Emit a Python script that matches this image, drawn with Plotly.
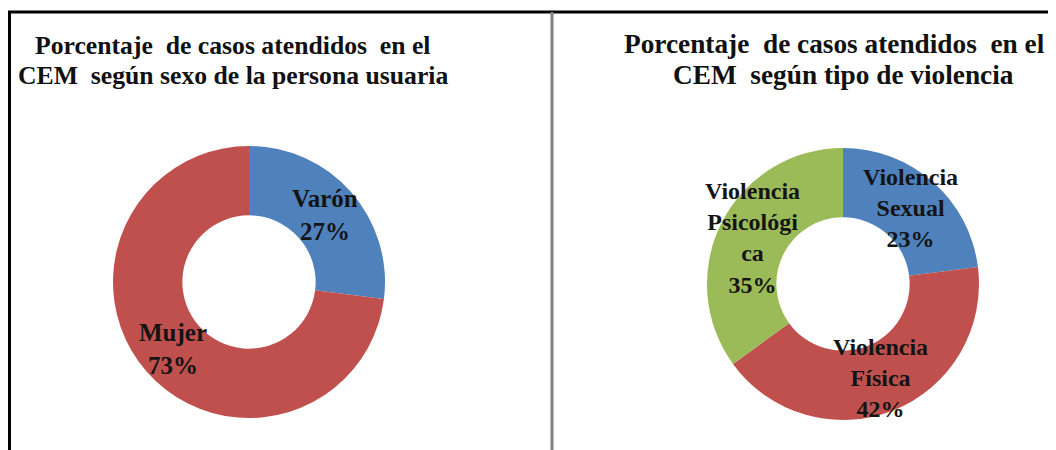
import math
import plotly.graph_objects as go

# Data
sexo_labels = ["Varón", "Mujer"]
sexo_values = [27, 73]
sexo_text = ["Varón", "Mujer"]

tipo_labels = ["Violencia Sexual", "Violencia Física", "Violencia Psicológica"]
tipo_values = [23, 42, 35]
tipo_text = ["Violencia<br>Sexual", "Violencia<br>Física", "Violencia<br>Psicológi<br>ca"]

title_left = ["Porcentaje  de casos atendidos  en el", "CEM  según sexo de la persona usuaria"]
title_right = ["Porcentaje  de casos atendidos  en el", "CEM  según tipo de violencia"]

# Page body has an 8px margin; figure is placed at (8, 8)
OFF = 8
W, H = 1056 - OFF, 450 - OFF
BLUE, RED, GREEN = "#4F81BD", "#C0504D", "#9BBB59"
FONT = "Liberation Serif"


def px(x):
    return (x - OFF) / W


def py(y):
    return (H - (y - OFF)) / H


R_OUT, HOLE = 136, 0.49
R_MID = R_OUT * (1 + HOLE) / 2

fig = go.Figure()
annotations = []


def add_donut(labels, values, texts, colors, cx, cy, size):
    fig.add_trace(go.Pie(
        labels=labels, values=values,
        textinfo="none",
        hole=HOLE, sort=False, direction="clockwise", rotation=0,
        marker=dict(colors=colors, line=dict(width=0)),
        domain=dict(x=[px(cx - R_OUT), px(cx + R_OUT)], y=[py(cy + R_OUT), py(cy - R_OUT)]),
        hoverinfo="label+percent", showlegend=False,
    ))
    total = sum(values)
    cum = 0
    for v, t in zip(values, texts):
        mid = (cum + v / 2) / total * 2 * math.pi
        cum += v
        lx = cx + R_MID * math.sin(mid)
        ly = cy - R_MID * math.cos(mid)
        annotations.append(dict(
            text=f"{t}<br>{v}%", x=px(lx), y=py(ly), xref="paper", yref="paper",
            xanchor="center", yanchor="middle", showarrow=False, align="center",
            font=dict(family=FONT, size=size, color="#141414", weight=700)))


add_donut(sexo_labels, sexo_values, sexo_text, [BLUE, RED], 249, 282, 25)
add_donut(tipo_labels, tipo_values, tipo_text, [BLUE, RED, GREEN], 843, 284, 24)

for lines, cx, ys, size in [(title_left, 233, [45, 75], 25.7), (title_right, [834, 843], [44, 75], 27.3)]:
    for i, line in enumerate(lines):
        x = cx[i] if isinstance(cx, list) else cx
        annotations.append(dict(
            text=line, x=px(x), y=py(ys[i]), xref="paper", yref="paper",
            xanchor="center", yanchor="middle", showarrow=False, align="center",
            font=dict(family=FONT, size=size, color="#111111", weight=700)))

shapes = [
    dict(type="line", xref="paper", yref="paper", x0=px(8), x1=1, y0=py(12), y1=py(12),
         line=dict(color="#000000", width=3)),
    dict(type="line", xref="paper", yref="paper", x0=px(9.5), x1=px(9.5), y0=0, y1=py(12),
         line=dict(color="#000000", width=3)),
    dict(type="line", xref="paper", yref="paper", x0=px(552), x1=px(552), y0=0, y1=py(12),
         line=dict(color="#808080", width=3)),
]

fig.update_layout(
    width=W, height=H, autosize=False,
    margin=dict(l=0, r=0, t=0, b=0),
    paper_bgcolor="white", plot_bgcolor="white",
    annotations=annotations, shapes=shapes,
)

fig.write_html("out.html")
